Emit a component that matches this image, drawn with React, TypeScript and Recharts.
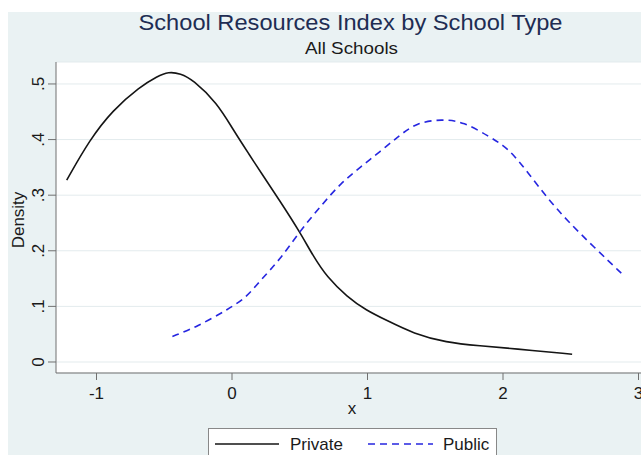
import { CartesianGrid, Line, LineChart, XAxis, YAxis } from 'recharts'

const privateX = [-1.22, -1.05, -0.88, -0.68, -0.55, -0.47, -0.38, -0.29, -0.11, 0.01, 0.13, 0.21, 0.35, 0.5, 0.6, 0.7, 0.85, 0.99, 1.14, 1.34, 1.58, 1.83, 2.08, 2.51]
const privateY = [0.327, 0.4, 0.453, 0.495, 0.514, 0.522, 0.519, 0.508, 0.466, 0.417, 0.372, 0.342, 0.291, 0.234, 0.19, 0.153, 0.117, 0.093, 0.075, 0.051, 0.035, 0.029, 0.024, 0.014]

const publicX = [-0.44, -0.26, -0.02, 0.11, 0.21, 0.35, 0.5, 0.65, 0.8, 0.95, 1.09, 1.24, 1.36, 1.55, 1.71, 1.9, 2.0, 2.08, 2.18, 2.32, 2.47, 2.67, 2.88]
const publicY = [0.046, 0.063, 0.096, 0.117, 0.147, 0.183, 0.235, 0.279, 0.321, 0.351, 0.378, 0.408, 0.43, 0.437, 0.432, 0.405, 0.39, 0.372, 0.342, 0.297, 0.255, 0.207, 0.158]

const xTicks = [-1, 0, 1, 2, 3]
const yTicks = [0, 0.1, 0.2, 0.3, 0.4, 0.5]

const privateData = privateX.map((x, i) => ({ x, y: privateY[i] }))
const publicData = publicX.map((x, i) => ({ x, y: publicY[i] }))

const FONT = '"Liberation Sans", Arial, sans-serif'
const BG = '#EAF2F3'
const AXIS = '#707070'
const BLUE = '#2626E0'

const fmtY = (v: number) => (v === 0 ? '0' : '.' + Math.round(v * 10))

function YTick({ x, y, payload }: any) {
  return (
    <g transform={`translate(${x - 8},${y}) rotate(-90)`}>
      <text textAnchor="middle" dy="0.35em" fontSize={17} fill="#1a1a1a" fontFamily={FONT}>
        {fmtY(payload.value)}
      </text>
    </g>
  )
}

export default function App() {
  return (
    <div
      style={{
        position: 'absolute',
        left: 8,
        top: 12,
        width: 633,
        height: 443,
        overflow: 'hidden',
        background: BG,
        fontFamily: FONT,
      }}
    >
      <LineChart width={640} height={443} margin={{ top: 50, right: 0, bottom: 32, left: 0 }}>
        <CartesianGrid vertical={false} stroke="#E3EBED" fill="#fff" />
        <XAxis
          dataKey="x"
          type="number"
          domain={[-1.299, 3.07]}
          ticks={xTicks}
          allowDataOverflow
          height={50}
          stroke={AXIS}
          tickSize={7}
          tickMargin={7}
          tick={{ fontSize: 17, fill: '#1a1a1a', fontFamily: FONT }}
        />
        <YAxis
          type="number"
          domain={[-0.0198, 0.5395]}
          ticks={yTicks}
          allowDataOverflow
          width={48}
          stroke={AXIS}
          tickSize={8}
          tickMargin={2}
          tick={<YTick />}
        />
        <Line
          data={privateData}
          dataKey="y"
          type="basis"
          stroke="#151515"
          strokeWidth={1.6}
          dot={false}
          isAnimationActive={false}
        />
        <Line
          data={publicData}
          dataKey="y"
          type="basis"
          stroke={BLUE}
          strokeWidth={1.6}
          strokeDasharray="7 5"
          dot={false}
          isAnimationActive={false}
        />
      </LineChart>
      <svg width={633} height={443} style={{ position: 'absolute', left: 0, top: 0, pointerEvents: 'none' }}>
        <text x={130.5} y={17.5} fontSize={21.5} textLength={424} lengthAdjust="spacingAndGlyphs" fill="#1E2D53" fontFamily={FONT}>
          School Resources Index by School Type
        </text>
        <text x={297} y={42.3} fontSize={17} textLength={93} lengthAdjust="spacingAndGlyphs" fill="#1a1a1a" fontFamily={FONT}>
          All Schools
        </text>
        <text x={344} y={402} textAnchor="middle" fontSize={17} fill="#1a1a1a" fontFamily={FONT}>
          x
        </text>
        <g transform="translate(10,208) rotate(-90)">
          <text textAnchor="middle" dy="0.35em" fontSize={17} fill="#1a1a1a" fontFamily={FONT}>
            Density
          </text>
        </g>
        <rect x={200.5} y={416.5} width={288} height={40} fill="#fff" stroke="#888" strokeWidth={1} />
        <line x1={207} x2={271} y1={432} y2={432} stroke="#151515" strokeWidth={1.6} />
        <text x={282} y={438} fontSize={17} fill="#1a1a1a" fontFamily={FONT}>
          Private
        </text>
        <line x1={360} x2={425} y1={432} y2={432} stroke={BLUE} strokeWidth={1.6} strokeDasharray="7 5" />
        <text x={435} y={438} fontSize={17} fill="#1a1a1a" fontFamily={FONT}>
          Public
        </text>
      </svg>
    </div>
  )
}
